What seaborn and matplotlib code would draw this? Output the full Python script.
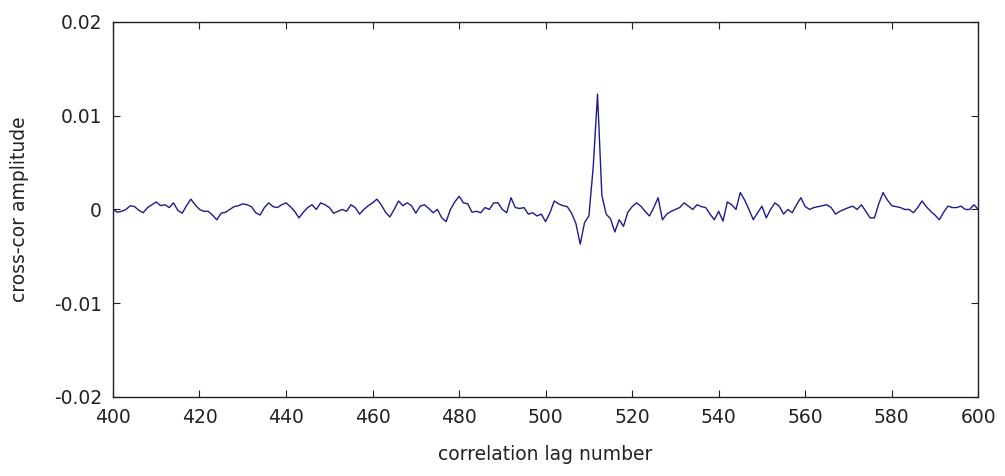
import numpy as np
import pandas as pd
import seaborn as sns
import matplotlib
matplotlib.use("Agg")
import matplotlib.pyplot as plt

# lag numbers and cross-correlation values (in units of 1e-3)
lags = list(range(400, 601))
amp_e3 = [
    0.0, -0.3, -0.2, 0.0, 0.4, 0.3, -0.1, -0.35, 0.2, 0.5,        # 400-409
    0.8, 0.4, 0.5, 0.2, 0.7, -0.1, -0.4, 0.4, 1.1, 0.5,           # 410-419
    0.0, -0.2, -0.2, -0.6, -1.1, -0.4, -0.3, 0.0, 0.3, 0.4,       # 420-429
    0.6, 0.5, 0.3, -0.35, -0.6, 0.2, 0.7, 0.3, 0.2, 0.5,          # 430-439
    0.7, 0.3, -0.2, -0.9, -0.3, 0.2, 0.5, 0.0, 0.7, 0.5,          # 440-449
    0.2, -0.4, -0.2, 0.0, -0.2, 0.5, 0.2, -0.5, 0.0, 0.4,         # 450-459
    0.7, 1.1, 0.5, -0.3, -0.8, 0.0, 0.9, 0.4, 0.7, 0.4,           # 460-469
    -0.4, 0.35, 0.5, 0.1, -0.35, 0.0, -0.9, -1.3, 0.0, 0.8,       # 470-479
    1.4, 0.7, 0.6, -0.3, -0.2, -0.35, 0.2, 0.0, 0.7, 0.7,         # 480-489
    0.0, -0.35, 1.25, 0.2, 0.1, 0.2, -0.5, -0.35, -0.7, -0.5,     # 490-499
    -1.3, -0.35, 0.9, 0.6, 0.4, 0.3, -0.4, -1.5, -3.7, -1.4,      # 500-509
    -0.7, 4.5, 12.3, 1.5, -0.5, -1.0, -2.4, -1.1, -1.8, -0.3,     # 510-519
    0.3, 0.7, 0.35, -0.2, -0.7, 0.2, 1.25, -1.1, -0.5, -0.2,      # 520-529
    0.0, 0.2, 0.7, 0.35, 0.0, 0.5, 0.3, 0.2, -0.5, -1.1,          # 530-539
    -0.2, -1.25, 0.8, 0.5, 0.0, 1.8, 1.0, 0.0, -1.1, -0.35,       # 540-549
    0.35, -0.9, 0.0, 0.7, 0.35, -0.5, 0.0, -0.35, 0.5, 1.25,      # 550-559
    0.3, 0.0, 0.2, 0.3, 0.4, 0.5, 0.2, -0.5, -0.2, 0.0,           # 560-569
    0.2, 0.35, 0.0, 0.5, -0.2, -0.9, -0.9, 0.6, 1.8, 1.0,         # 570-579
    0.4, 0.3, 0.2, 0.0, 0.0, -0.35, 0.2, 0.9, 0.3, -0.2,          # 580-589
    -0.6, -1.1, -0.3, 0.35, 0.2, 0.2, 0.35, 0.0, 0.0, 0.5,        # 590-599
    0.0,                                                          # 600
]
x_ticks = list(range(400, 601, 20))
y_ticks = [-0.02, -0.01, 0, 0.01, 0.02]
y_tick_labels = ["-0.02", "-0.01", "0", "0.01", "0.02"]

df = pd.DataFrame({"lag": lags, "amp": np.array(amp_e3) * 1e-3})

sns.set_style("ticks")
plt.rcParams['font.family'] = ['DejaVu Sans']

fig = plt.figure(figsize=(10.05, 4.76), dpi=100)
fig.patch.set_facecolor("white")
ax = fig.add_axes([0.1124, 0.166, 0.861, 0.788])

sns.lineplot(x="lag", y="amp", data=df, ax=ax, color="#1c1c8c", linewidth=1.0)

ax.set_xlim(400, 600)
ax.set_ylim(-0.02, 0.02)
ax.set_xticks(x_ticks)
ax.set_xticklabels([str(t) for t in x_ticks])
ax.set_yticks(y_ticks)
ax.set_yticklabels(y_tick_labels)
ax.tick_params(direction="in", length=5, width=0.8, top=True, right=True,
               labelsize=13.5, colors="#222222")
ax.tick_params(axis="x", pad=8)
ax.tick_params(axis="y", pad=8)
for s in ax.spines.values():
    s.set_visible(True)
    s.set_linewidth(1.0)
    s.set_color("#222222")

ax.set_xlabel("correlation lag number", fontsize=13.5, color="#222222")
ax.set_ylabel("cross-cor amplitude", fontsize=13.5, color="#222222")
ax.xaxis.set_label_coords(0.5, -0.128)
ax.yaxis.set_label_coords(-0.097, 0.5)

fig.savefig("out.png", dpi=100, facecolor="white")
